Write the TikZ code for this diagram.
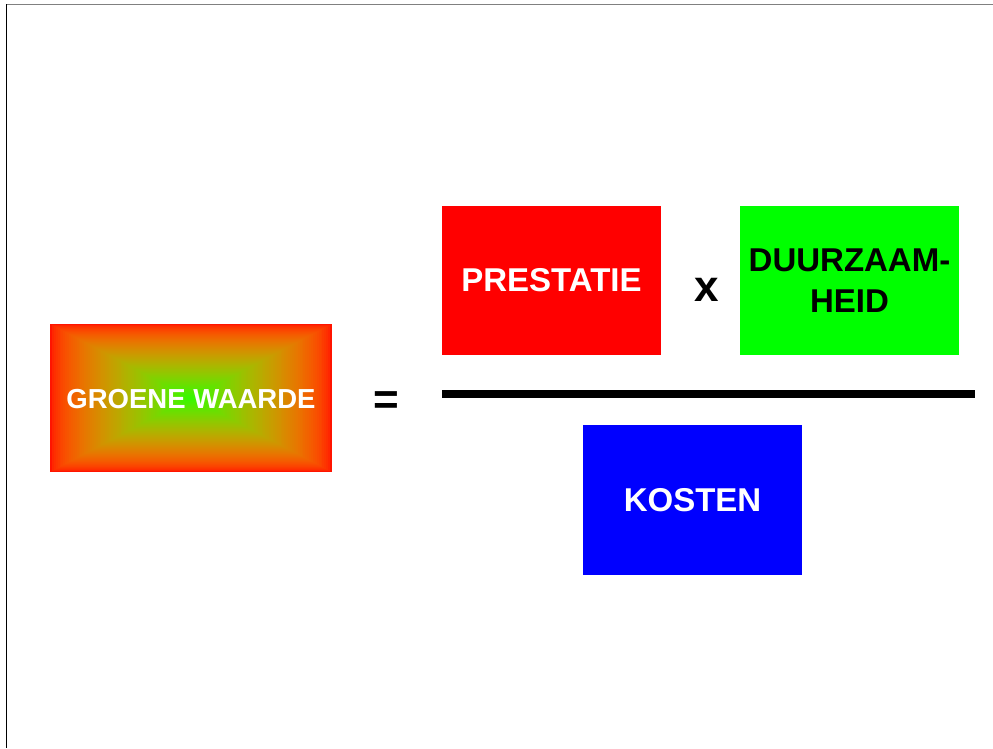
\documentclass[tikz,border=0pt]{standalone}
\usepackage{fontspec}
\setmainfont{Liberation Sans}
\usepackage{tikz}

\begin{document}
\begin{tikzpicture}[x=1pt,y=-1pt,
    termbox/.style={minimum width=219pt,minimum height=149pt,inner sep=0pt,
      font=\fontsize{33}{41.7}\selectfont\bfseries,align=center},
    opsign/.style={inner sep=0pt,font=\fontsize{44}{44}\selectfont\bfseries}]

  \useasboundingbox (0,0) rectangle (993,748);

  % Frame lines at the top and left edge
  \draw [gray,line width=1pt] (6,4.5)--(993,4.5);
  \draw [black,line width=1pt] (6.5,4)--(6.5,748);

  %%%%%%%%%%%%%%%%%%%%%%%%%%%%%%%%%%%%%%%%%%%%%%%%%%%%%%%%%%%%%%%%%%%%%%%%%%%%5
  %% Left hand side: the shaded box
  %%%%%%%%%%%%%%%%%%%%%%%%%%%%%%%%%%%%%%%%%%%%%%%%%%%%%%%%%%%%%%%%%%%%%%%%%%%%5

  % Nested rectangles shrinking to the centre, red at the edge, green inside
  \pgfmathsetmacro{\steps}{74}
  \foreach \i in {0,...,73}
  {
    \pgfmathsetmacro{\p}{\i/\steps}
    \pgfmathsetmacro{\r}{1-0.8*\p^1.5}
    \pgfmathsetmacro{\g}{min(1,0.08+0.9*\p^0.6)}
    \pgfmathsetmacro{\dx}{141*\p}
    \pgfmathsetmacro{\dy}{74*\p}
    \definecolor{ringcolor}{rgb}{\r,\g,0}
    \fill [ringcolor] (50+\dx,324+\dy) rectangle (332-\dx,472-\dy);
  }

  \node [termbox,minimum width=282pt,minimum height=148pt,text=white,
    font=\fontsize{27.5}{30}\selectfont\bfseries] (groene) at (191,399.5) {GROENE WAARDE};

  \node [opsign] (equals) at (386,403) {=};

  %%%%%%%%%%%%%%%%%%%%%%%%%%%%%%%%%%%%%%%%%%%%%%%%%%%%%%%%%%%%%%%%%%%%%%%%%%%%5
  %% Right hand side: the fraction
  %%%%%%%%%%%%%%%%%%%%%%%%%%%%%%%%%%%%%%%%%%%%%%%%%%%%%%%%%%%%%%%%%%%%%%%%%%%%5

  % Numerator
  \node [termbox,fill=red,text=white] (prestatie) at (551.5,280.5) {PRESTATIE};
  \node [opsign] (times) at (707,290) {x};
  \node [termbox,fill=green,text=black] (duurzaam) at (849.5,280.5) {DUURZAAM-\\HEID};

  % The fraction bar
  \coordinate (barleft) at (442,394.3);
  \coordinate (barright) at (975,394.3);
  \draw [line width=8pt] (barleft)--(barright);

  % Denominator
  \node [termbox,minimum height=150pt,fill=blue,text=white] (kosten) at (692.5,500) {KOSTEN};

\end{tikzpicture}
\end{document}
